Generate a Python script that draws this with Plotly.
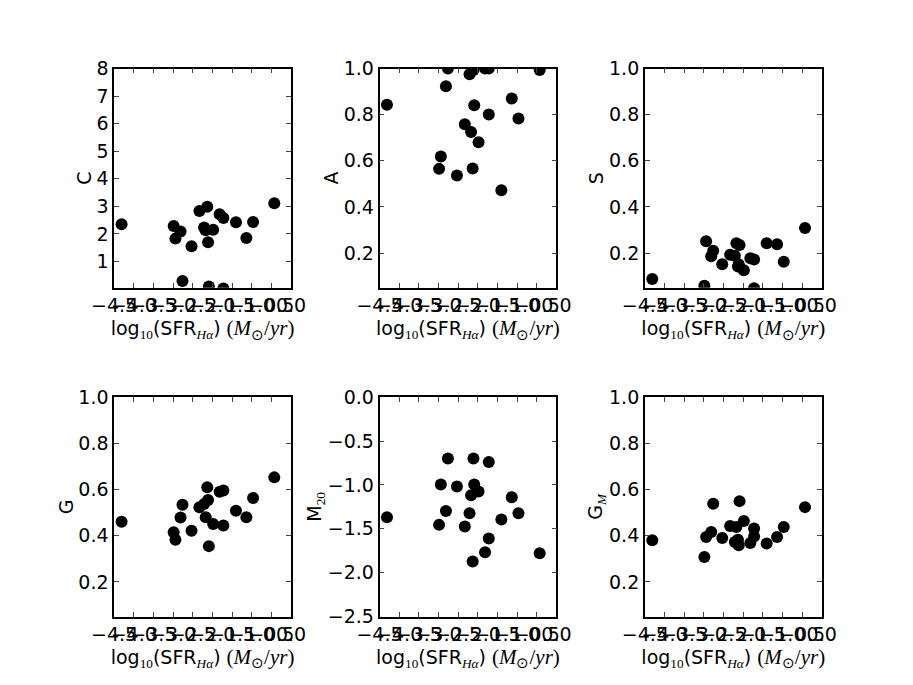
import plotly.graph_objects as go
from plotly.subplots import make_subplots

# log10 SFR(Halpha) shared by all panels
log_sfr = [-4.31, -2.985, -2.94, -2.81, -2.76, -2.53, -2.33, -2.21, -2.17, -2.13,
           -2.11, -2.09, -1.98, -1.815, -1.72, -1.72, -1.40, -1.135, -0.965, -0.425]

conc = [2.35, 2.29, 1.83, 2.09, 0.29, 1.55, 2.83, 2.23, 2.13, 2.99,
        1.70, 0.09, 2.15, 2.71, 2.58, 0.02, 2.42, 1.85, 2.43, 3.11]
asym = [0.843, 0.565, 0.619, 0.923, 1.0, 0.536, 0.758, 0.975, 0.725, 0.567,
        0.993, 0.841, 0.680, 1.0, 1.0, 0.801, 0.472, 0.870, 0.783, 0.993]
smooth = [0.088, 0.058, 0.251, 0.186, 0.210, 0.152, 0.193, 0.188, 0.243, 0.142,
          0.152, 0.235, 0.126, 0.178, 0.172, 0.048, 0.243, 0.238, 0.162, 0.309]
gini = [0.461, 0.415, 0.383, 0.479, 0.534, 0.422, 0.523, 0.538, 0.480, 0.610,
        0.555, 0.355, 0.451, 0.591, 0.596, 0.444, 0.508, 0.480, 0.564, 0.653]
m20 = [-1.368, -1.455, -0.995, -1.296, -0.699, -1.018, -1.474, -1.322, -1.117, -1.873,
       -0.699, -0.995, -1.075, -1.767, -1.611, -0.737, -1.394, -1.140, -1.322, -1.778]
gini_m = [0.380, 0.308, 0.395, 0.416, 0.539, 0.390, 0.442, 0.373, 0.438, 0.383,
          0.359, 0.550, 0.464, 0.369, 0.431, 0.397, 0.366, 0.395, 0.438, 0.524]

x_ticks = [-4.5, -4.0, -3.5, -3.0, -2.5, -2.0, -1.5, -1.0, -0.5, 0.0]

MATH = "font-family:'Liberation Serif'"
MATH_BIG = "font-family:'Liberation Serif';font-size:21px"
xlabel = ("log<sub><span style=\"%s\">10</span></sub>(SFR<sub><span style=\"%s\"><i>Hα</i></span></sub>)"
          " <span style=\"%s\">(<i>M</i><sub>⊙</sub>/<i>yr</i>)</span>") % (MATH, MATH, MATH_BIG)

panels = [
    (conc, "C", [0.05, 8], [1, 2, 3, 4, 5, 6, 7, 8], "d"),
    (asym, "A", [0.05, 1.0], [0.2, 0.4, 0.6, 0.8, 1.0], ".1f"),
    (smooth, "S", [0.05, 1.0], [0.2, 0.4, 0.6, 0.8, 1.0], ".1f"),
    (gini, "G", [0.05, 1.0], [0.2, 0.4, 0.6, 0.8, 1.0], ".1f"),
    (m20, "M<sub><span style=\"%s\">20</span></sub>" % MATH, [-2.5, 0.0],
     [0.0, -0.5, -1.0, -1.5, -2.0, -2.5], ".1f"),
    (gini_m, "G<sub><span style=\"%s\"><i>M</i></span></sub>" % MATH, [0.05, 1.0],
     [0.2, 0.4, 0.6, 0.8, 1.0], ".1f"),
]

# page body has an 8px margin, so the figure is shrunk by 16px and offset
W, H, OFF = 897, 669, 8
col_px = [(114.1, 291.0), (379.5, 556.4), (644.8, 821.7)]
row_px = [(68.5, 287.7), (397.3, 616.5)]
col_dom = [[(a - OFF) / W, (b - OFF) / W] for a, b in col_px]
row_dom = [[1 - (b - OFF) / H, 1 - (a - OFF) / H] for a, b in row_px]

fig = make_subplots(rows=2, cols=3)
font = dict(family="DejaVu Sans", size=19, color="black")

for i, (vals, name, yr, yt, fmt) in enumerate(panels):
    r, c = i // 3 + 1, i % 3 + 1
    fig.add_trace(go.Scatter(x=log_sfr, y=vals, mode="markers",
                             marker=dict(size=12, color="black"),
                             showlegend=False), row=r, col=c)
    fig.update_xaxes(domain=col_dom[c - 1], range=[-4.5, 0.0], tickvals=x_ticks,
                     tickformat=".1f", tickangle=0, ticks="inside", ticklen=5,
                     showline=True, linecolor="black", linewidth=1.5, mirror="ticks",
                     showgrid=False, zeroline=False, tickfont=font, automargin=False,
                     title=dict(text=xlabel, font=font, standoff=2), row=r, col=c)
    fig.update_yaxes(domain=row_dom[r - 1], range=yr, tickvals=yt, tickformat=fmt,
                     ticks="inside", ticklen=5, automargin=False,
                     showline=True, linecolor="black", linewidth=1.5, mirror="ticks",
                     showgrid=False, zeroline=False, tickfont=font,
                     title=dict(text=name, font=font, standoff=0), row=r, col=c)

fig.update_layout(width=W, height=H, autosize=False,
                  margin=dict(l=0, r=0, t=0, b=0, autoexpand=False),
                  paper_bgcolor="white", plot_bgcolor="white",
                  font=font)

fig.write_html("out.html")
